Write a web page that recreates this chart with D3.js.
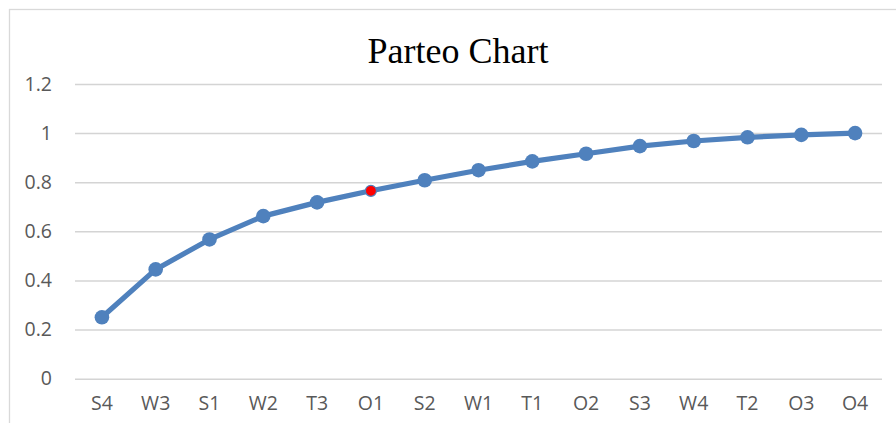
<!DOCTYPE html>
<html>
<head>
<meta charset="utf-8">
<script src="https://cdn.jsdelivr.net/npm/d3@7"></script>
<style>
  body { margin: 0; background: #fff; }
  svg { display: block; }
</style>
</head>
<body>
<svg id="chart" width="896" height="423"></svg>
<script>
const categories = ["S4", "W3", "S1", "W2", "T3", "O1", "S2", "W1", "T1", "O2", "S3", "W4", "T2", "O3", "O4"];
const values = [0.25, 0.445, 0.567, 0.662, 0.718, 0.765, 0.808, 0.849, 0.885, 0.916, 0.947, 0.968, 0.983, 0.993, 1.0];
const highlighted = ["O1"];
const yTicks = [0, 0.2, 0.4, 0.6, 0.8, 1, 1.2];
const title = "Parteo Chart";

const plotLeft = 75, plotRight = 882, plotTop = 84, plotBottom = 378.7;

const svg = d3.select("#chart");

// chart area border (runs off the right and bottom edges)
svg.append("rect")
  .attr("x", 9.5).attr("y", 9.5)
  .attr("width", 920).attr("height", 440)
  .attr("fill", "none")
  .attr("stroke", "#d9d9d9")
  .attr("stroke-width", 1.3);

const xScale = d3.scaleBand()
  .domain(categories)
  .range([plotLeft, plotRight]);

const yScale = d3.scaleLinear()
  .domain([0, 1.2])
  .range([plotBottom, plotTop]);

// gridlines + y labels
const yAxis = d3.axisLeft(yScale)
  .tickValues(yTicks)
  .tickSize(-(plotRight - plotLeft))
  .tickPadding(23)
  .tickFormat(d3.format("~g"));

const gy = svg.append("g")
  .attr("transform", `translate(${plotLeft},0)`)
  .call(yAxis);
gy.select(".domain").remove();
gy.selectAll(".tick line")
  .attr("stroke", "#d4d4d4")
  .attr("stroke-width", 1.5);
gy.selectAll(".tick text")
  .attr("fill", "#595959")
  .style("font-family", "'Open Sans', sans-serif")
  .style("font-size", "19.5px");

// x labels
const xAxis = d3.axisBottom(xScale).tickSize(0).tickPadding(17);
const gx = svg.append("g")
  .attr("transform", `translate(0,${plotBottom})`)
  .call(xAxis);
gx.select(".domain").remove();
gx.selectAll(".tick text")
  .attr("fill", "#595959")
  .style("font-family", "'Open Sans', sans-serif")
  .style("font-size", "19.5px");

// title
svg.append("text")
  .attr("x", 458)
  .attr("y", 63)
  .attr("text-anchor", "middle")
  .attr("fill", "#000")
  .style("font-family", "'Liberation Serif', 'Times New Roman', serif")
  .style("font-size", "36px")
  .text(title);

const data = categories.map((c, i) => ({ cat: c, val: values[i] }));
const cx = d => xScale(d.cat) + xScale.bandwidth() / 2;

const line = d3.line()
  .x(cx)
  .y(d => yScale(d.val));

svg.append("path")
  .datum(data)
  .attr("fill", "none")
  .attr("stroke", "#4f81bd")
  .attr("stroke-width", 5.2)
  .attr("stroke-linejoin", "round")
  .attr("d", line);

svg.selectAll("circle.pt")
  .data(data)
  .enter()
  .append("circle")
  .attr("class", "pt")
  .attr("cx", cx)
  .attr("cy", d => yScale(d.val))
  .attr("r", d => highlighted.includes(d.cat) ? 5.5 : 7.3)
  .attr("fill", d => highlighted.includes(d.cat) ? "#ff0000" : "#4f81bd")
  .attr("stroke", "#4f81bd")
  .attr("stroke-width", d => highlighted.includes(d.cat) ? 1.2 : 0);
</script>
</body>
</html>
